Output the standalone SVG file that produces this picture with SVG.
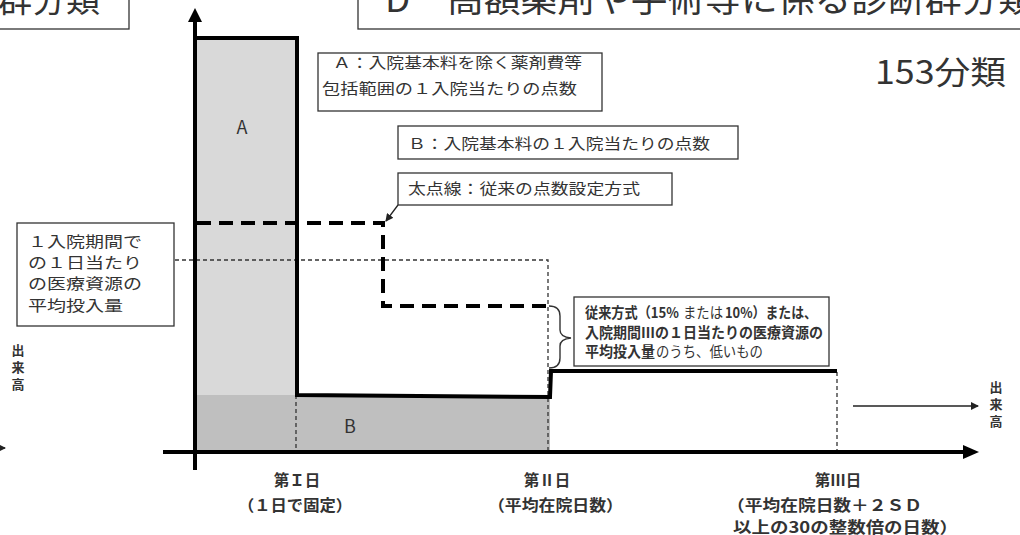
<svg xmlns="http://www.w3.org/2000/svg" width="1020" height="535" viewBox="0 0 1020 535">
<style>
.t{font-family:"Noto Sans CJK JP","Noto Sans",sans-serif;fill:#333;}
.b{font-weight:bold;}
.box{fill:#fff;stroke:#333;stroke-width:1.3;}
.thin{fill:none;stroke:#333;stroke-width:1.3;stroke-dasharray:4 3;}
.thick{fill:none;stroke:#000;stroke-width:4;}
.cdash{fill:none;stroke:#000;stroke-width:4;stroke-dasharray:14 8;}
</style>
<defs>
<marker id="ah" markerWidth="8" markerHeight="8" refX="7" refY="4" orient="auto" markerUnits="userSpaceOnUse"><path d="M0,0 L8,4 L0,8 z" fill="#222"/></marker>
</defs>
<rect width="1020" height="535" fill="#fff"/>

<g id="fills">
<rect x="197" y="38" width="99" height="357" fill="#d9d9d9"/>
<rect x="197" y="395" width="353" height="57" fill="#bfbfbf"/>
<path d="M296,395 L550,397 L550,452 L296,452 z" fill="#bfbfbf"/>
<text class="t" x="242" y="134" font-size="18" text-anchor="middle">A</text>
<text class="t" x="350" y="433" font-size="18" text-anchor="middle">B</text>
</g>

<g id="connectors">
<path class="thin" d="M175,260 L548,260 L548,452"/>
<path class="thin" d="M296,395 L296,452"/>
<path class="thin" d="M837,372 L837,452"/>
<path class="cdash" d="M197,223 L383,223 L383,306 L548,306"/>
<path class="thick" d="M195,38 L297,38 L297,395 L550,397 L551,371 L837,371"/>
<path d="M195,470 L195,18" stroke="#000" stroke-width="4"/>
<polygon points="195,8 188,22 202,22" fill="#000"/>
<path d="M163,452 L965,452" stroke="#000" stroke-width="4"/>
<polygon points="979,452 963,445 963,459" fill="#000"/>
<path d="M853,406 L978,406" stroke="#222" stroke-width="1.5" marker-end="url(#ah)"/>
<path d="M-20,448 L5,448" stroke="#222" stroke-width="1.5" marker-end="url(#ah)"/>
<path d="M398,205 L386,221" stroke="#222" stroke-width="1.3" marker-end="url(#ah)"/>
<path d="M549,306 Q560,306 560,316 L560,330 Q560,337 571,338 Q560,339 560,346 L560,358 Q560,368 549,368" fill="none" stroke="#333" stroke-width="1.4"/>
</g>

<g id="title-left">
<rect class="box" x="-5" y="-10" width="134" height="39"/>
<text class="t" x="100" y="12" font-size="34" text-anchor="end" fill="#111">診断群分類</text>
</g>
<g id="title-right">
<rect class="box" x="358" y="-10" width="700" height="39"/>
<text class="t" x="385" y="12" font-size="36" fill="#111" textLength="650" lengthAdjust="spacingAndGlyphs">D　高額薬剤や手術等に係る診断群分類</text>
</g>
<text id="count" class="t" x="875" y="84" font-size="32" fill="#111" textLength="131" lengthAdjust="spacingAndGlyphs">153分類</text>

<g id="box-a">
<rect class="box" x="318" y="53" width="284" height="58"/>
<text class="t" x="333" y="68" font-size="15" textLength="249" lengthAdjust="spacingAndGlyphs">Ａ：入院基本料を除く薬剤費等</text>
<text class="t" x="322" y="94" font-size="15" textLength="255" lengthAdjust="spacingAndGlyphs">包括範囲の１入院当たりの点数</text>
</g>
<g id="box-b">
<rect class="box" x="398" y="126" width="340" height="33"/>
<text class="t" x="408" y="149" font-size="15" textLength="302" lengthAdjust="spacingAndGlyphs">Ｂ：入院基本料の１入院当たりの点数</text>
</g>
<g id="box-dash">
<rect class="box" x="398" y="173" width="274" height="32"/>
<text class="t" x="408" y="194" font-size="15" textLength="232" lengthAdjust="spacingAndGlyphs">太点線：従来の点数設定方式</text>
</g>
<g id="box-avg">
<rect class="box" x="17" y="223" width="157" height="103"/>
<text class="t" x="28" y="247" font-size="15" textLength="114" lengthAdjust="spacingAndGlyphs">１入院期間で</text>
<text class="t" x="28" y="268" font-size="15" textLength="114" lengthAdjust="spacingAndGlyphs">の１日当たり</text>
<text class="t" x="28" y="289" font-size="15" textLength="114" lengthAdjust="spacingAndGlyphs">の医療資源の</text>
<text class="t" x="28" y="311" font-size="15" textLength="95" lengthAdjust="spacingAndGlyphs">平均投入量</text>
</g>
<g id="box-rule">
<rect class="box" x="574" y="297" width="255" height="69"/>
<text class="t b" x="585" y="318" font-size="14.5" textLength="94" lengthAdjust="spacingAndGlyphs">従来方式（15%</text>
<text class="t" x="683" y="318" font-size="14.5" textLength="40" lengthAdjust="spacingAndGlyphs">または</text>
<text class="t b" x="725" y="318" font-size="14.5" textLength="92" lengthAdjust="spacingAndGlyphs">10%）または、</text>
<text class="t b" x="585" y="338" font-size="14.5" textLength="238" lengthAdjust="spacingAndGlyphs">入院期間Ⅲの１日当たりの医療資源の</text>
<text class="t b" x="585" y="357" font-size="14.5" textLength="70" lengthAdjust="spacingAndGlyphs">平均投入量</text>
<text class="t" x="656" y="357" font-size="14.5" textLength="107" lengthAdjust="spacingAndGlyphs">のうち、低いもの</text>
</g>

<g id="axis-labels">
<g class="t b" font-size="13" text-anchor="middle">
<text x="18" y="355">出</text><text x="18" y="372">来</text><text x="18" y="389">高</text>
<text x="996" y="392">出</text><text x="996" y="409">来</text><text x="996" y="426">高</text>
</g>
<g class="t b" font-size="15.5">
<text x="297" y="486" text-anchor="middle">第Ｉ日</text>
<text x="238" y="511" textLength="114" lengthAdjust="spacingAndGlyphs">（１日で固定）</text>
<text x="547" y="486" text-anchor="middle">第Ⅱ日</text>
<text x="488" y="511" textLength="135" lengthAdjust="spacingAndGlyphs">（平均在院日数）</text>
<text x="838" y="486" text-anchor="middle">第Ⅲ日</text>
<text x="727" y="511" textLength="195" lengthAdjust="spacingAndGlyphs">（平均在院日数＋２ＳＤ</text>
<text x="733" y="533" textLength="225" lengthAdjust="spacingAndGlyphs">以上の30の整数倍の日数）</text>
</g>
</g>
</svg>
